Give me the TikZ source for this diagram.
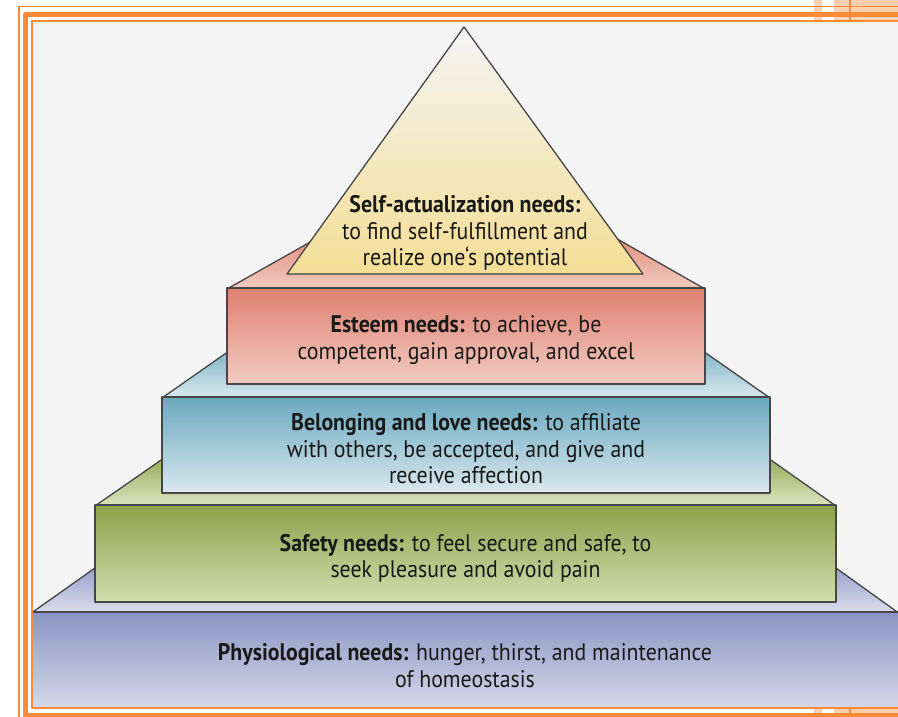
\documentclass[tikz,border=0pt]{standalone}
\usepackage{fontspec}
\setmainfont[FakeStretch=0.91]{PT Sans}
\usetikzlibrary{positioning,calc}
\definecolor{framecol}{RGB}{253,138,55}
\definecolor{bgcol}{RGB}{244,244,244}
\definecolor{edgecol}{RGB}{70,70,70}
\definecolor{textcol}{RGB}{25,25,25}
\definecolor{physiotop}{RGB}{138,148,196}
\definecolor{physiobot}{RGB}{222,224,236}
\definecolor{physioface}{RGB}{152,161,205}
\definecolor{safetytop}{RGB}{139,163,74}
\definecolor{safetybot}{RGB}{212,220,176}
\definecolor{safetyface}{RGB}{152,173,92}
\definecolor{belongtop}{RGB}{106,168,192}
\definecolor{belongbot}{RGB}{218,232,238}
\definecolor{belongface}{RGB}{130,182,200}
\definecolor{esteemtop}{RGB}{222,128,112}
\definecolor{esteembot}{RGB}{242,204,194}
\definecolor{esteemface}{RGB}{226,140,122}
\definecolor{selftop}{RGB}{244,222,150}
\definecolor{selfmid}{RGB}{246,236,200}

\begin{document}
\begin{tikzpicture}[x=1pt,y=-1pt,line join=round,
    layer/.style={rectangle,draw=edgecol,line width=1.3pt,inner sep=0pt},
    face/.style={draw=edgecol,line width=1.3pt},
    txt/.style={align=center,text=textcol,inner sep=0pt,font=\fontsize{24}{26.5}\selectfont}]

    \useasboundingbox (0,0) rectangle (898,717);
    \fill[framecol!40] (814,0) rectangle (822,717) (834,0) rectangle (898,717);
    \fill[framecol] (849,0) rectangle (851,717);
    \fill[bgcol] (32,22) rectangle (898,708);

    \begin{scope}
        \clip (32,22) rectangle (898,708);

        \fill[face,top color=physioface,bottom color=physiobot] (30,614) -- (95,568) -- (836,568) -- (900,614) -- cycle;
        \node[layer,top color=physiotop,bottom color=physiobot,minimum width=880pt,minimum height=107pt] (physio) at (470,665.5) {};
        \node[txt] (physiotext) at (465,665.5)
            {\textbf{Physiological needs:} hunger, thirst, and maintenance\\of homeostasis};

        \fill[face,top color=safetyface,bottom color=safetybot!80!white] (95,506) -- (164,458) -- (768,458) -- (836,506) -- cycle;
        \node[layer,top color=safetytop,bottom color=safetybot,minimum width=741pt,minimum height=97pt] (safety) at (465.5,553.5) {};
        \node[txt] (safetytext) at ([yshift=-5pt]safety.center)
            {\textbf{Safety needs:} to feel secure and safe, to\\seek pleasure and avoid pain};

        \fill[face,top color=belongface,bottom color=belongbot] (162,398) -- (229,351) -- (703,351) -- (770,398) -- cycle;
        \node[layer,top color=belongtop,bottom color=belongbot,minimum width=608pt,minimum height=96pt] (belong) at (466,445) {};
        \node[txt] (belongtext) at ([yshift=-4pt]belong.center)
            {\textbf{Belonging and love needs:} to affiliate\\with others, be accepted, and give and\\receive affection};

        \fill[face,top color=esteemface,bottom color=esteembot] (227,289) -- (321,236) -- (612,236) -- (705,289) -- cycle;
        \node[layer,top color=esteemtop,bottom color=esteembot,minimum width=478pt,minimum height=96pt] (esteem) at (466,336) {};
        \node[txt] (esteemtext) at ([yshift=-4pt]esteem.center)
            {\textbf{Esteem needs:} to achieve, be\\competent, gain approval, and excel};

        \coordinate (apex) at (464,27);
        \coordinate (baseleft) at (287,274);
        \coordinate (baseright) at (643,274);
        \fill[face,top color=bgcol,middle color=selfmid,bottom color=selftop] (apex) -- (baseleft) -- (baseright) -- cycle;
        \node[txt] (selfact) at (465,233)
            {\textbf{Self-actualization needs:}\\to find self-fulfillment and\\realize one‘s potential};
    \end{scope}

    \draw[framecol,line width=1.5pt] (898,6.5) -| (19,717);
    \draw[framecol,line width=5pt] (898,14.5) -| (25.5,715.5) -- (898,715.5);
    \draw[framecol,line width=2.2pt] (898,21.2) -| (32,708.2) -- (898,708.2);
\end{tikzpicture}
\end{document}
